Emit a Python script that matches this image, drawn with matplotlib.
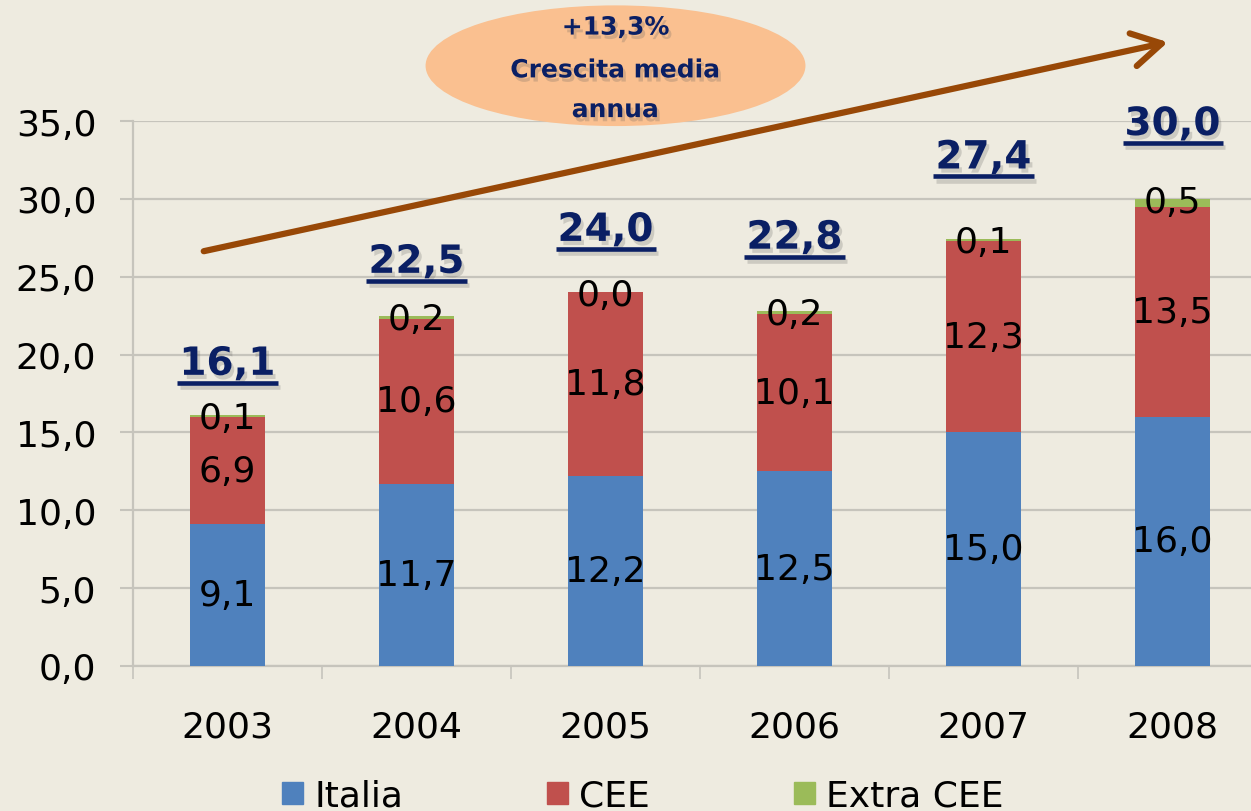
import numpy as np
import matplotlib.pyplot as plt
import matplotlib.patheffects as pe
from matplotlib.patches import Ellipse, Patch
from matplotlib.lines import Line2D

# Dati (milioni) per anno
anni = ['2003', '2004', '2005', '2006', '2007', '2008']
italia = [9.1, 11.7, 12.2, 12.5, 15.0, 16.0]
cee = [6.9, 10.6, 11.8, 10.1, 12.3, 13.5]
extra_cee = [0.1, 0.2, 0.0, 0.2, 0.1, 0.5]
totali = [16.1, 22.5, 24.0, 22.8, 27.4, 30.0]
crescita = '+13,3%'

# Posizione verticale (baseline) delle etichette dei totali
pos_totali = [18.7, 25.25, 27.3, 26.8, 31.95, 34.1]

sfondo = '#EEEBE0'
blu = '#4F81BD'
rosso = '#C0504D'
verde = '#9BBB59'
navy = '#0A1F64'
grigio = '#C6C4BC'


def fmt(v):
    return f'{v:.1f}'.replace('.', ',')


fig = plt.figure(figsize=(12.51, 8.12), dpi=100, facecolor=sfondo)
ax = fig.add_axes([133 / 1251, 145 / 812, 1134 / 1251, 545 / 812])
ax.set_facecolor(sfondo)

x = np.arange(len(anni))
w = 0.4
base2 = np.array(italia)
base3 = base2 + np.array(cee)
ax.bar(x, italia, w, color=blu, zorder=3)
ax.bar(x, cee, w, bottom=base2, color=rosso, zorder=3)
ax.bar(x, extra_cee, w, bottom=base3, color=verde, zorder=3)

# Etichette dentro le barre
for i in range(len(anni)):
    ax.text(x[i], italia[i] / 2, fmt(italia[i]), ha='center', va='center', fontsize=26, zorder=5)
    ax.text(x[i], base2[i] + cee[i] / 2, fmt(cee[i]), ha='center', va='center', fontsize=26, zorder=5)
    ax.text(x[i], base3[i] + extra_cee[i] - 0.2, fmt(extra_cee[i]), ha='center', va='center',
            fontsize=26, zorder=5)

# Assi e griglia
ax.set_xlim(-0.5, 5.5)
ax.set_ylim(0, 35)
ax.set_yticks(np.arange(0, 36, 5))
ax.set_yticklabels([fmt(v) for v in np.arange(0, 36, 5)], fontsize=26)
ax.set_xticks(x)
ax.set_xticklabels(anni, fontsize=26)
ax.set_xticks(np.arange(-0.5, 5.6, 1), minor=True)
ax.tick_params(axis='x', which='major', length=0, pad=31)
ax.tick_params(axis='x', which='minor', length=9.5, width=1.2, color=grigio, direction='out')
ax.tick_params(axis='y', length=9.5, width=1.5, color=grigio, pad=17)
ax.grid(axis='y', color=grigio, lw=1.6, zorder=0)
for s in ['top', 'right']:
    ax.spines[s].set_visible(False)
for s in ['left', 'bottom']:
    ax.spines[s].set_color(grigio)
    ax.spines[s].set_linewidth(1.6)

# Freccia di crescita
ax.annotate('', xy=(4.99, 40.1), xytext=(-0.14, 26.6), annotation_clip=False,
            arrowprops=dict(arrowstyle='->,head_length=1.05,head_width=0.6', lw=4.5,
                            color='#984807', mutation_scale=20, capstyle='round',
                            joinstyle='round'))

# Ellisse con la crescita media
ell = Ellipse((2.053, 38.55), 2.01, 7.75, facecolor='#FAC090', edgecolor='none',
              clip_on=False, zorder=6)
ax.add_patch(ell)
ombra = [pe.withSimplePatchShadow(offset=(2, -3), shadow_rgbFace='#555555', alpha=0.22)]
for testo, yy in zip([crescita, 'Crescita media', 'annua'], [41.0, 38.25, 35.7]):
    ax.text(2.053, yy, testo, ha='center', va='center', fontsize=18, fontweight='bold',
            color=navy, zorder=7, clip_on=False, path_effects=ombra)

# Totali sottolineati
etichette = []
for i in range(len(anni)):
    t = ax.text(x[i], pos_totali[i], fmt(totali[i]), ha='center', va='baseline', fontsize=28,
                fontweight='bold', color=navy, zorder=7, clip_on=False, path_effects=ombra)
    etichette.append(t)

fig.canvas.draw()
r = fig.canvas.get_renderer()
inv = fig.transFigure.inverted()
for i, t in enumerate(etichette):
    bb = t.get_window_extent(renderer=r)
    yb = ax.transData.transform((0, pos_totali[i]))[1] - 8
    p0 = inv.transform((bb.x0 - 2, yb))
    p1 = inv.transform((bb.x1 + 2, yb))
    ln = Line2D([p0[0], p1[0]], [p0[1], p1[1]], transform=fig.transFigure, color=navy,
                lw=3.3, solid_capstyle='butt', zorder=7,
                path_effects=[pe.SimpleLineShadow(offset=(2, -3), shadow_color='#555555', alpha=0.22),
                              pe.Normal()])
    fig.add_artist(ln)

# Legenda
maniglie = [Patch(color=blu, label='Italia'), Patch(color=rosso, label='CEE'),
            Patch(color=verde, label='Extra CEE')]
fig.legend(handles=maniglie, loc='center', bbox_to_anchor=(0.514, 0.019), ncol=3,
           frameon=False, fontsize=26, handlelength=0.58, handleheight=0.58,
           handletextpad=0.3, columnspacing=4.0, borderpad=0)

fig.savefig('out.png', dpi=100, facecolor=sfondo)
